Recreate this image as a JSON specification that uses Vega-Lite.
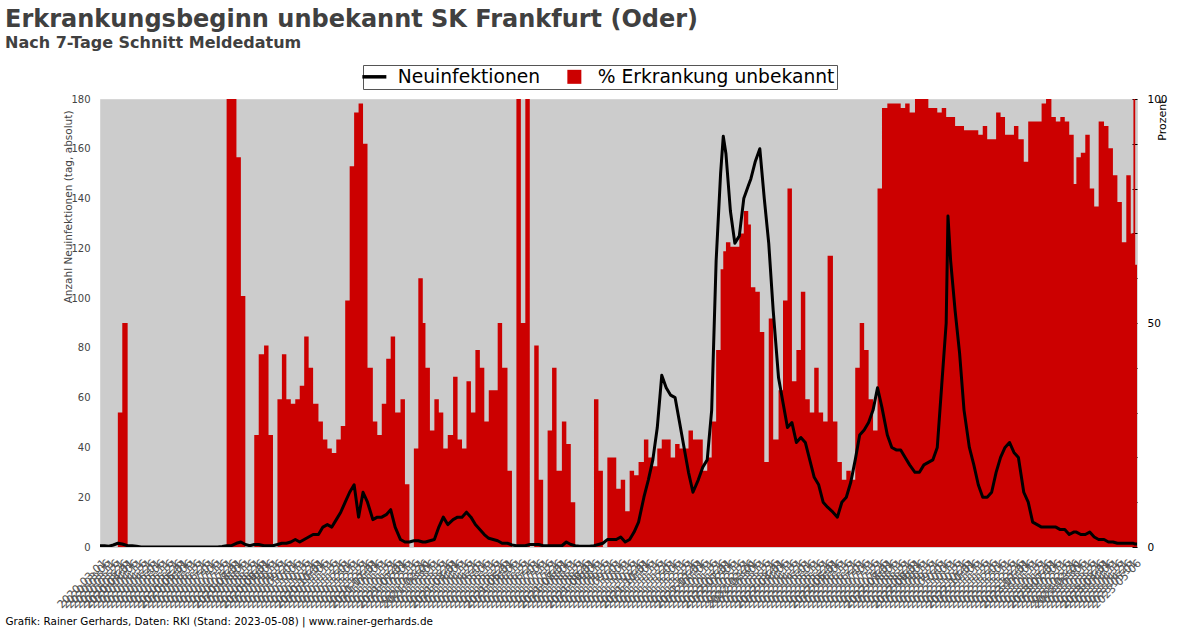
{
"$schema":"https://vega.github.io/schema/vega-lite/v6.json",
"width":1037,"height":448,
"autosize":{"type":"none"},
"padding":{"left":100,"top":99,"right":63,"bottom":81},
"background":"white",
"config":{"font":"DejaVu Sans","view":{"fill":"#cccccc","stroke":"#d6d6d6","strokeWidth":1}},
"title":{"text":"Erkrankungsbeginn unbekannt SK Frankfurt (Oder)","subtitle":"Nach 7-Tage Schnitt Meldedatum","anchor":"start","frame":"group","dx":-95,"dy":-4,"fontSize":24,"fontWeight":"bold","color":"#404040","subtitleFontSize":16,"subtitleFontWeight":"bold","subtitleColor":"#404040","subtitlePadding":3,"offset":10},
"data":{"values":[
{"d":"2020-03-01","n":0.5,"p":0},{"d":"2020-03-06","n":0.5,"p":0},{"d":"2020-03-11","n":0.3,"p":0},{"d":"2020-03-16","n":0.8,"p":0},{"d":"2020-03-21","n":1.5,"p":30},{"d":"2020-03-26","n":1.2,"p":50},
{"d":"2020-04-01","n":0.5,"p":0},{"d":"2020-04-06","n":0.5,"p":0},{"d":"2020-04-11","n":0.3,"p":0},{"d":"2020-04-16","n":0,"p":0},{"d":"2020-04-21","n":0,"p":0},{"d":"2020-04-26","n":0,"p":0},
{"d":"2020-05-01","n":0,"p":0},{"d":"2020-05-06","n":0,"p":0},{"d":"2020-05-11","n":0,"p":0},{"d":"2020-05-16","n":0,"p":0},{"d":"2020-05-21","n":0,"p":0},{"d":"2020-05-26","n":0,"p":0},
{"d":"2020-06-01","n":0,"p":0},{"d":"2020-06-06","n":0,"p":0},{"d":"2020-06-11","n":0,"p":0},{"d":"2020-06-16","n":0,"p":0},{"d":"2020-06-21","n":0,"p":0},{"d":"2020-06-26","n":0,"p":0},
{"d":"2020-07-01","n":0,"p":0},{"d":"2020-07-06","n":0,"p":0},{"d":"2020-07-11","n":0,"p":0},{"d":"2020-07-16","n":0.2,"p":0},{"d":"2020-07-21","n":0.5,"p":100},{"d":"2020-07-26","n":0.5,"p":100},
{"d":"2020-08-01","n":1.5,"p":87},{"d":"2020-08-06","n":2,"p":56},{"d":"2020-08-11","n":1,"p":0},{"d":"2020-08-16","n":0.5,"p":0},{"d":"2020-08-21","n":1,"p":25},{"d":"2020-08-26","n":1,"p":43},
{"d":"2020-09-01","n":0.5,"p":45},{"d":"2020-09-06","n":0.5,"p":25},{"d":"2020-09-11","n":0.5,"p":0},{"d":"2020-09-16","n":1,"p":33},{"d":"2020-09-21","n":1.5,"p":43},{"d":"2020-09-26","n":1.5,"p":33},
{"d":"2020-10-01","n":2,"p":32},{"d":"2020-10-06","n":3,"p":33},{"d":"2020-10-11","n":2,"p":36},{"d":"2020-10-16","n":3,"p":47},{"d":"2020-10-21","n":4,"p":40},{"d":"2020-10-26","n":5,"p":32},
{"d":"2020-11-01","n":5,"p":28},{"d":"2020-11-06","n":8,"p":24},{"d":"2020-11-11","n":9,"p":22},{"d":"2020-11-16","n":8,"p":21},{"d":"2020-11-21","n":11,"p":24},{"d":"2020-11-26","n":14,"p":27},
{"d":"2020-12-01","n":18,"p":55},{"d":"2020-12-06","n":22,"p":85},{"d":"2020-12-11","n":25,"p":97},{"d":"2020-12-16","n":12,"p":99},{"d":"2020-12-21","n":22,"p":90},{"d":"2020-12-26","n":18,"p":40},
{"d":"2021-01-01","n":11,"p":28},{"d":"2021-01-06","n":12,"p":25},{"d":"2021-01-11","n":12,"p":32},{"d":"2021-01-16","n":13,"p":42},{"d":"2021-01-21","n":15,"p":47},{"d":"2021-01-26","n":8,"p":30},
{"d":"2021-02-01","n":3,"p":33},{"d":"2021-02-06","n":2,"p":14},{"d":"2021-02-11","n":2,"p":0},{"d":"2021-02-16","n":2.5,"p":22},{"d":"2021-02-21","n":2.5,"p":60},{"d":"2021-02-26","n":2,"p":50},
{"d":"2021-03-01","n":2,"p":40},{"d":"2021-03-06","n":2.5,"p":26},{"d":"2021-03-11","n":3,"p":33},{"d":"2021-03-16","n":8,"p":30},{"d":"2021-03-21","n":12,"p":22},{"d":"2021-03-26","n":9,"p":25},
{"d":"2021-04-01","n":11,"p":38},{"d":"2021-04-06","n":12,"p":24},{"d":"2021-04-11","n":12,"p":22},{"d":"2021-04-16","n":14,"p":37},{"d":"2021-04-21","n":12,"p":30},{"d":"2021-04-26","n":9,"p":44},
{"d":"2021-05-01","n":7,"p":40},{"d":"2021-05-06","n":5,"p":28},{"d":"2021-05-11","n":3.5,"p":35},{"d":"2021-05-16","n":3,"p":35},{"d":"2021-05-21","n":2.5,"p":50},{"d":"2021-05-26","n":1.5,"p":40},
{"d":"2021-06-01","n":1.5,"p":17},{"d":"2021-06-06","n":0.8,"p":0},{"d":"2021-06-11","n":0.5,"p":100},{"d":"2021-06-16","n":0.5,"p":50},{"d":"2021-06-21","n":0.5,"p":100},{"d":"2021-06-26","n":1,"p":0},
{"d":"2021-07-01","n":1,"p":45},{"d":"2021-07-06","n":1,"p":15},{"d":"2021-07-11","n":0.5,"p":0},{"d":"2021-07-16","n":0.5,"p":26},{"d":"2021-07-21","n":0.5,"p":40},{"d":"2021-07-26","n":0.5,"p":17},
{"d":"2021-08-01","n":0.5,"p":28},{"d":"2021-08-06","n":2,"p":23},{"d":"2021-08-11","n":1,"p":10},{"d":"2021-08-16","n":0.5,"p":0},{"d":"2021-08-21","n":0.3,"p":0},{"d":"2021-08-26","n":0.3,"p":0},
{"d":"2021-09-01","n":0.3,"p":0},{"d":"2021-09-06","n":0.5,"p":33},{"d":"2021-09-11","n":1,"p":17},{"d":"2021-09-16","n":1.5,"p":0},{"d":"2021-09-21","n":3,"p":20},{"d":"2021-09-26","n":3,"p":20},
{"d":"2021-10-01","n":3,"p":13},{"d":"2021-10-06","n":4,"p":15},{"d":"2021-10-11","n":2,"p":8},{"d":"2021-10-16","n":3,"p":17},{"d":"2021-10-21","n":6,"p":16},{"d":"2021-10-26","n":10,"p":19},
{"d":"2021-11-01","n":20,"p":24},{"d":"2021-11-06","n":27,"p":20},{"d":"2021-11-11","n":35,"p":18},{"d":"2021-11-16","n":48,"p":22},{"d":"2021-11-21","n":69,"p":24},{"d":"2021-11-26","n":64,"p":24},
{"d":"2021-12-01","n":61,"p":20},{"d":"2021-12-06","n":60,"p":23},{"d":"2021-12-11","n":50,"p":22},{"d":"2021-12-16","n":40,"p":22},{"d":"2021-12-21","n":30,"p":26},{"d":"2021-12-26","n":22,"p":24},
{"d":"2022-01-01","n":27,"p":24},{"d":"2022-01-06","n":32,"p":17},{"d":"2022-01-11","n":35,"p":20},{"d":"2022-01-16","n":55,"p":28},{"d":"2022-01-21","n":115,"p":44},{"d":"2022-01-26","n":150,"p":62},{"d":"2022-01-29","n":165,"p":66},
{"d":"2022-02-01","n":158,"p":68},{"d":"2022-02-06","n":135,"p":67},{"d":"2022-02-11","n":122,"p":67},{"d":"2022-02-16","n":125,"p":70},{"d":"2022-02-21","n":140,"p":75},{"d":"2022-02-26","n":145,"p":72},
{"d":"2022-03-01","n":148,"p":58},{"d":"2022-03-06","n":155,"p":57},{"d":"2022-03-11","n":160,"p":48},{"d":"2022-03-16","n":140,"p":19},{"d":"2022-03-21","n":122,"p":51},{"d":"2022-03-26","n":95,"p":24},
{"d":"2022-04-01","n":68,"p":35},{"d":"2022-04-06","n":58,"p":55},{"d":"2022-04-11","n":48,"p":80},{"d":"2022-04-16","n":50,"p":37},{"d":"2022-04-21","n":42,"p":44},{"d":"2022-04-26","n":44,"p":57},
{"d":"2022-05-01","n":42,"p":33},{"d":"2022-05-06","n":35,"p":30},{"d":"2022-05-11","n":28,"p":40},{"d":"2022-05-16","n":25,"p":30},{"d":"2022-05-21","n":18,"p":28},{"d":"2022-05-26","n":16,"p":65},
{"d":"2022-06-01","n":14,"p":28},{"d":"2022-06-06","n":12,"p":19},{"d":"2022-06-11","n":18,"p":15},{"d":"2022-06-16","n":20,"p":17},{"d":"2022-06-21","n":26,"p":15},{"d":"2022-06-26","n":35,"p":40},
{"d":"2022-07-01","n":45,"p":50},{"d":"2022-07-06","n":47,"p":44},{"d":"2022-07-11","n":50,"p":33},{"d":"2022-07-16","n":55,"p":26},{"d":"2022-07-21","n":64,"p":80},{"d":"2022-07-26","n":56,"p":98},
{"d":"2022-08-01","n":45,"p":99},{"d":"2022-08-06","n":40,"p":99},{"d":"2022-08-11","n":39,"p":99},{"d":"2022-08-16","n":39,"p":98},{"d":"2022-08-21","n":36,"p":99},{"d":"2022-08-26","n":33,"p":97},
{"d":"2022-09-01","n":30,"p":100},{"d":"2022-09-06","n":30,"p":100},{"d":"2022-09-11","n":33,"p":100},{"d":"2022-09-16","n":34,"p":98},{"d":"2022-09-21","n":35,"p":98},{"d":"2022-09-26","n":40,"p":97},
{"d":"2022-10-01","n":65,"p":98},{"d":"2022-10-06","n":90,"p":96},{"d":"2022-10-08","n":133,"p":96},{"d":"2022-10-11","n":115,"p":96},{"d":"2022-10-16","n":95,"p":94},{"d":"2022-10-21","n":78,"p":94},{"d":"2022-10-26","n":55,"p":93},
{"d":"2022-11-01","n":40,"p":93},{"d":"2022-11-06","n":33,"p":93},{"d":"2022-11-11","n":25,"p":92},{"d":"2022-11-16","n":20,"p":94},{"d":"2022-11-21","n":20,"p":91},{"d":"2022-11-26","n":22,"p":91},
{"d":"2022-12-01","n":30,"p":97},{"d":"2022-12-06","n":36,"p":96},{"d":"2022-12-11","n":40,"p":92},{"d":"2022-12-16","n":42,"p":92},{"d":"2022-12-21","n":38,"p":94},{"d":"2022-12-26","n":36,"p":91},
{"d":"2023-01-01","n":22,"p":86},{"d":"2023-01-06","n":18,"p":95},{"d":"2023-01-11","n":10,"p":95},{"d":"2023-01-16","n":9,"p":95},{"d":"2023-01-21","n":8,"p":99},{"d":"2023-01-26","n":8,"p":100},
{"d":"2023-02-01","n":8,"p":96},{"d":"2023-02-06","n":8,"p":95},{"d":"2023-02-11","n":7,"p":96},{"d":"2023-02-16","n":7,"p":95},{"d":"2023-02-21","n":5,"p":92},{"d":"2023-02-26","n":6,"p":81},
{"d":"2023-03-01","n":6,"p":87},{"d":"2023-03-06","n":5,"p":88},{"d":"2023-03-11","n":5,"p":92},{"d":"2023-03-16","n":6,"p":80},{"d":"2023-03-21","n":4,"p":76},{"d":"2023-03-26","n":3,"p":95},
{"d":"2023-04-01","n":3,"p":94},{"d":"2023-04-06","n":2,"p":89},{"d":"2023-04-11","n":2,"p":83},{"d":"2023-04-16","n":1.5,"p":77},{"d":"2023-04-21","n":1.5,"p":68},{"d":"2023-04-26","n":1.5,"p":83},
{"d":"2023-05-01","n":1.5,"p":70},{"d":"2023-05-04","n":1.5,"p":100},{"d":"2023-05-06","n":1.2,"p":63},{"d":"2023-05-08","n":1.2,"p":63}
]},
"encoding":{"x":{"field":"d","type":"temporal",
 "scale":{"type":"utc","domain":[{"year":2020,"month":3,"date":1,"utc":true},{"year":2023,"month":5,"date":8,"utc":true}]},
 "axis":{"format":"%Y-%m-%d","tickCount":{"interval":"day","step":5},"labelAngle":-45,"labelAlign":"right","labelBaseline":"top","labelOverlap":false,"labelBound":false,"labelFlush":false,"labelFontSize":11,"labelColor":"#555555","labelPadding":10,"ticks":false,"domain":false,"grid":false,
 "title":"Grafik: Rainer Gerhards, Daten: RKI (Stand: 2023-05-08) | www.rainer-gerhards.de","titleX":-95,"titleY":77,"titleAlign":"left","titleAnchor":"start","titleBaseline":"alphabetic","titleFontSize":10.4,"titleFontWeight":"normal","titleColor":"black"}}},
"layer":[
{"mark":{"type":"area","interpolate":"step-after","clip":true},
 "encoding":{
  "y":{"field":"p","type":"quantitative","scale":{"domain":[0,100],"nice":false},
   "axis":{"orient":"right","values":[0,10,20,30,40,50,60,70,80,90,100],"labelExpr":"datum.value % 50 === 0 ? datum.label : ''","tickSize":-5,"tickColor":"black","labelPadding":15,"labelFontSize":10.5,"labelColor":"black","domain":false,"grid":false,
   "title":"Prozent","titleAngle":270,"titleX":25,"titleY":0,"titleAlign":"right","titleBaseline":"middle","titleFontSize":11,"titleFontWeight":"normal","titleColor":"black"}},
  "color":{"datum":"% Erkrankung unbekannt","type":"nominal","scale":{"domain":["Neuinfektionen","% Erkrankung unbekannt"],"range":["black","#cc0000"]},
   "legend":{"orient":"none","legendX":263,"legendY":-34,"direction":"horizontal","title":null,"labelFontSize":18.7,"labelColor":"black","labelOffset":14,"fillColor":"white","strokeColor":"#555555","padding":2,"symbolSize":256,"columnPadding":24,"labelLimit":400,
    "encoding":{"symbols":{
     "shape":{"value":{"expr":"datum.value === 'Neuinfektionen' ? 'M-1.5,0L1.5,0' : 'square'"}},
     "fill":{"value":{"expr":"datum.value === 'Neuinfektionen' ? 'transparent' : '#cc0000'"}},
     "stroke":{"value":{"expr":"datum.value === 'Neuinfektionen' ? 'black' : '#cc0000'"}},
     "strokeWidth":{"value":{"expr":"datum.value === 'Neuinfektionen' ? 3.5 : 0"}},
     "size":{"value":{"expr":"datum.value === 'Neuinfektionen' ? 256 : 196"}},
     "opacity":{"value":1}}}}}}},
{"mark":{"type":"line","strokeWidth":3,"strokeJoin":"round","clip":true},
 "encoding":{
  "y":{"field":"n","type":"quantitative","scale":{"domain":[0,180],"nice":false},
   "axis":{"orient":"left","values":[0,20,40,60,80,100,120,140,160,180],"ticks":false,"labelPadding":10,"labelFontSize":10,"labelColor":"#444444","domain":false,"grid":false,
   "title":"Anzahl Neuinfektionen (tag, absolut)","titleAngle":270,"titleX":-32,"titleY":11,"titleAlign":"right","titleBaseline":"middle","titleFontSize":10.5,"titleFontWeight":"normal","titleColor":"#444444"}},
  "color":{"datum":"Neuinfektionen","type":"nominal","scale":{"domain":["Neuinfektionen","% Erkrankung unbekannt"],"range":["black","#cc0000"]},
   "legend":{"orient":"none","legendX":263,"legendY":-34,"direction":"horizontal","title":null,"labelFontSize":18.7,"labelColor":"black","labelOffset":14,"fillColor":"white","strokeColor":"#555555","padding":2,"symbolSize":256,"columnPadding":24,"labelLimit":400,
    "encoding":{"symbols":{
     "shape":{"value":{"expr":"datum.value === 'Neuinfektionen' ? 'M-1.5,0L1.5,0' : 'square'"}},
     "fill":{"value":{"expr":"datum.value === 'Neuinfektionen' ? 'transparent' : '#cc0000'"}},
     "stroke":{"value":{"expr":"datum.value === 'Neuinfektionen' ? 'black' : '#cc0000'"}},
     "strokeWidth":{"value":{"expr":"datum.value === 'Neuinfektionen' ? 3.5 : 0"}},
     "size":{"value":{"expr":"datum.value === 'Neuinfektionen' ? 256 : 196"}},
     "opacity":{"value":1}}}}}}}
],
"resolve":{"scale":{"y":"independent"}}
}
